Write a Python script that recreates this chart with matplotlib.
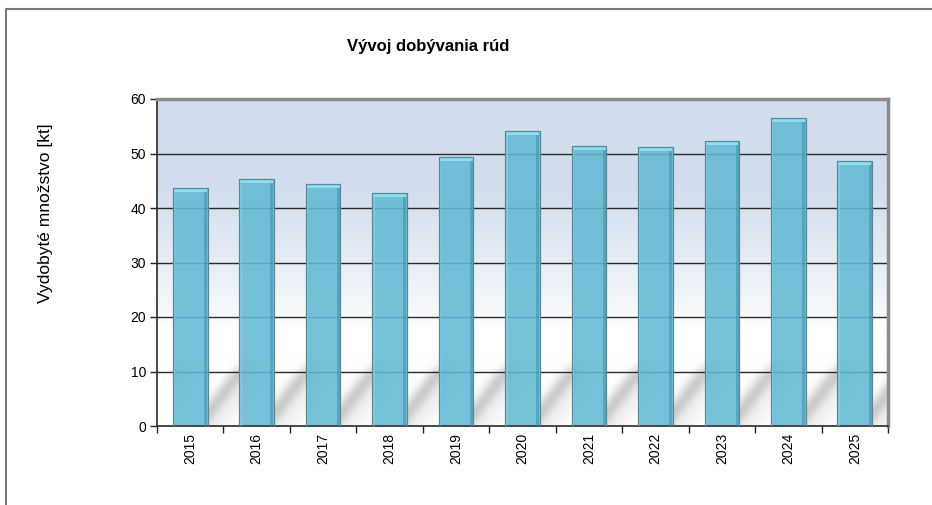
import numpy as np
import matplotlib.pyplot as plt
from matplotlib.lines import Line2D

plt.rcParams['font.family'] = ['Liberation Sans', 'DejaVu Sans']

years = ['2015', '2016', '2017', '2018', '2019', '2020', '2021', '2022', '2023', '2024', '2025']
values = [43.7, 45.3, 44.4, 42.7, 49.4, 54.1, 51.4, 51.2, 52.3, 56.5, 48.6]

title = 'Vývoj dobývania rúd'
ylabel = 'Vydobyté množstvo [kt]'

fig = plt.figure(figsize=(9.32, 5.05), dpi=100)
ax = fig.add_axes([157 / 932, 79 / 505, 731 / 932, 327 / 505])

n = len(years)
x = np.arange(n)
bar_w = 0.52
ymax = 60

# background: blue-grey gradient at the top fading to white, with diagonal bar shadows
ny, nx = 600, 1100
yy = np.linspace(ymax, 0, ny)[:, None]
xx = np.linspace(-0.5, n - 0.5, nx)[None, :]
top = np.array([0.82, 0.87, 0.93])
t = np.clip((yy - 18) / (44 - 18), 0, 1) ** 0.8
rgb = 1 - t[..., None] * (1 - top)
rgb = np.broadcast_to(rgb, (ny, nx, 3)).copy()

# shadow: soft diagonal band to the right of each bar, in pixel units
px_x, px_y = 731 / n, 327 / ymax
u = ((xx - bar_w / 2) % 1) * px_x
v = yy * px_y
slope = 1.3
d = (v - 12 - slope * u) / np.sqrt(1 + slope ** 2)
shade = 0.19 * np.exp(-(d / 8.0) ** 2) + 0.05 * np.exp(-((d + 14) / 12.0) ** 2)
shade = shade * np.clip((13 - yy) / 4.0, 0, 1)
shade = shade * (xx > -bar_w / 2)  # nothing left of the first bar
rgb = rgb - shade[..., None]
ax.imshow(np.clip(rgb, 0, 1), extent=(-0.5, n - 0.5, 0, ymax), aspect='auto',
          interpolation='bilinear', zorder=0)

for g in range(10, ymax, 10):
    ax.axhline(g, color='#2a2a2a', lw=1.0, zorder=1)

# bars with simple 3d look
ax.bar(x, values, width=bar_w, color='#62b9d3', alpha=0.88, linewidth=0, zorder=2)
ax.bar(x + bar_w / 2 - 0.03, values, width=0.045, color='#3f8aa3', alpha=0.5,
       linewidth=0, zorder=3)
ax.bar(x - bar_w / 2 + 0.02, values, width=0.03, color='#a6dbe8', alpha=0.4,
       linewidth=0, zorder=3)
cap = 0.75
ax.bar(x, [cap] * n, bottom=np.array(values) - cap, width=bar_w - 0.02, color='#8fdcee',
       linewidth=0, zorder=4)
ax.bar(x, values, width=bar_w, fill=False, edgecolor='#55899b', linewidth=0.9, zorder=5)

ax.set_xlim(-0.5, n - 0.5)
ax.set_ylim(0, ymax)
ax.set_yticks(range(0, ymax + 1, 10))
ax.set_xticks(x)
ax.set_xticklabels(years, rotation=90, fontsize=10)
ax.set_xticks(np.arange(-0.5, n, 1), minor=True)
ax.tick_params(axis='x', which='major', length=0, pad=5)
ax.tick_params(axis='x', which='minor', length=5, width=1, color='#222', direction='out')
ax.tick_params(axis='y', length=5, width=1, color='#222', labelsize=10, pad=3)

for s in ['top', 'right']:
    ax.spines[s].set_color('#8c8c8c')
    ax.spines[s].set_linewidth(2.5)
for s in ['left', 'bottom']:
    ax.spines[s].set_color('#2a2a2a')
    ax.spines[s].set_linewidth(1.2)

fig.text(428 / 932, 1 - 47 / 505, title, ha='center', va='center',
         fontsize=12, fontweight='bold')
fig.text(46 / 932, 1 - 213 / 505, ylabel, ha='center', va='center',
         rotation=90, fontsize=12.5)

# outer chart frame (left and top edges visible)
fig.add_artist(Line2D([6 / 932, 6 / 932, 1], [0, 1 - 9 / 505, 1 - 9 / 505],
                      transform=fig.transFigure, color='#7a7a7a', lw=1.5))

fig.savefig('out.png', dpi=100)
